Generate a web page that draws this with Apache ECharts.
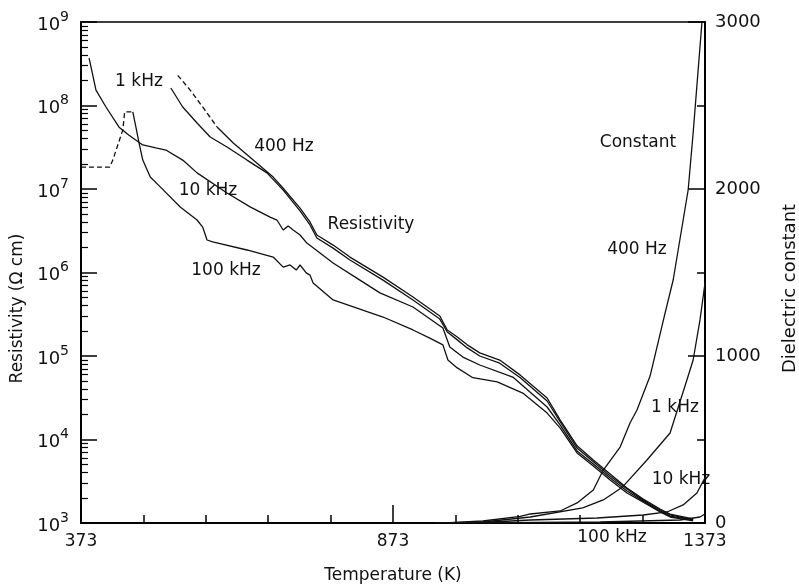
<!DOCTYPE html>
<html><head><meta charset="utf-8">
<script src="https://cdn.jsdelivr.net/npm/echarts@6/dist/echarts.min.js"></script>
<style>html,body{margin:0;padding:0;background:#fff}#c{width:799px;height:585px}</style>
</head><body><div id="c"></div>
<script>
// ---------------- Data ----------------
const xTicks = [373, 473, 573, 673, 773, 873, 973, 1073, 1173, 1273, 1373];
const xTickLabels = [373, 873, 1373];
const resTickExps = [3, 4, 5, 6, 7, 8, 9];
const dielTicks = [0, 1000, 2000, 3000];

// Resistivity (Ω cm) vs temperature (K)
const res400DashT = [528, 548, 568, 591];
const res400DashR = [2.3e8, 1.53e8, 9.6e7, 5.53e7];
const res400T = [591, 617, 649, 681, 697, 724, 740, 751, 777, 804, 857, 905, 948, 960, 976, 992, 1012, 1044, 1077, 1120, 1141, 1168, 1194, 1221, 1248, 1274, 1301, 1317, 1354];
const res400R = [5.53e7, 3.56e7, 2.22e7, 1.39e7, 1.02e7, 5.9e6, 4.03e6, 2.81e6, 2.13e6, 1.53e6, 8.8e5, 5.1e5, 3.01e5, 2.05e5, 1.69e5, 1.36e5, 1.09e5, 8.95e4, 5.9e4, 3.14e4, 1.71e4, 8.4e3, 5.7e3, 3.86e3, 2.62e3, 1.94e3, 1.47e3, 1.28e3, 1.12e3];

const res1kT = [517, 536, 559, 580, 607, 639, 671, 697, 724, 740, 751, 777, 804, 857, 905, 948, 960, 976, 992, 1012, 1044, 1077, 1120, 1141, 1168, 1194, 1221, 1248, 1274, 1301, 1317, 1354];
const res1kR = [1.62e8, 9.6e7, 6.17e7, 4.2e7, 3.18e7, 2.22e7, 1.56e7, 9.7e6, 5.46e6, 3.71e6, 2.59e6, 1.96e6, 1.41e6, 8.1e5, 4.69e5, 2.77e5, 1.94e5, 1.56e5, 1.25e5, 1.0e5, 8.2e4, 5.5e4, 2.89e4, 1.62e4, 7.9e3, 5.4e3, 3.66e3, 2.55e3, 1.88e3, 1.43e3, 1.25e3, 1.09e3];

const res10kT = [386, 397, 413, 434, 450, 472, 493, 509, 536, 559, 607, 644, 676, 687, 697, 705, 713, 724, 735, 777, 820, 852, 905, 953, 964, 985, 1012, 1065, 1120, 1141, 1168, 1194, 1221, 1248, 1274, 1301, 1317, 1354];
const res10kR = [3.7e8, 1.53e8, 9.6e7, 5.5e7, 4.4e7, 3.37e7, 3.1e7, 2.93e7, 2.22e7, 1.56e7, 8.95e6, 6.1e6, 4.6e6, 4.25e6, 3.23e6, 3.6e6, 3.23e6, 2.81e6, 2.25e6, 1.3e6, 8.1e5, 5.7e5, 3.86e5, 2.16e5, 1.28e5, 9.7e4, 7.8e4, 5.6e4, 2.45e4, 1.49e4, 7.3e3, 5.1e3, 3.46e3, 2.42e3, 1.83e3, 1.39e3, 1.21e3, 1.09e3];

const res100kDashT = [373, 395, 419, 424, 432, 440, 443, 456];
const res100kDashR = [1.83e7, 1.83e7, 1.83e7, 2.22e7, 3.37e7, 5.1e7, 8.4e7, 8.4e7];
const res100kT = [456, 461, 466, 472, 484, 500, 532, 559, 568, 575, 584, 639, 681, 697, 708, 718, 724, 734, 740, 745, 777, 857, 905, 932, 953, 961, 976, 1001, 1040, 1081, 1120, 1141, 1168, 1194, 1221, 1248, 1274, 1301, 1317, 1354];
const res100kR = [8.4e7, 5.5e7, 3.56e7, 2.22e7, 1.39e7, 1.06e7, 6.1e6, 4.25e6, 3.5e6, 2.45e6, 2.32e6, 1.86e6, 1.53e6, 1.16e6, 1.23e6, 1.07e6, 1.23e6, 9.9e5, 9.3e5, 7.5e5, 4.7e5, 2.93e5, 2.05e5, 1.64e5, 1.36e5, 8.95e4, 7.2e4, 5.5e4, 4.9e4, 3.6e4, 2.07e4, 1.37e4, 6.9e3, 4.8e3, 3.27e3, 2.29e3, 1.78e3, 1.36e3, 1.18e3, 1.06e3];

// Dielectric constant vs temperature (K)
const diel400T = [940, 964, 1017, 1077, 1093, 1141, 1168, 1194, 1210, 1237, 1253, 1264, 1285, 1309, 1322, 1346, 1354, 1368];
const diel400E = [0, 2, 12, 40, 54, 72, 120, 198, 317, 455, 600, 677, 880, 1257, 1455, 1994, 2335, 2994];
const diel1kT = [960, 1017, 1093, 1177, 1210, 1241, 1280, 1317, 1344, 1354, 1365, 1373];
const diel1kE = [0, 6, 36, 90, 138, 216, 377, 539, 856, 976, 1216, 1437];
const diel10kT = [1000, 1093, 1200, 1274, 1312, 1338, 1360, 1373];
const diel10kE = [0, 18, 30, 48, 66, 108, 180, 270];
const diel100kT = [1000, 1205, 1333, 1365, 1373];
const diel100kE = [0, 6, 18, 36, 54];

// ---------------- Chart ----------------
const FONT = 'DejaVu Sans';
const INK = '#111';
const zip = (a, b) => a.map((v, i) => [v, b[i]]);
const resTickValues = resTickExps.map(e => Math.pow(10, e));
const resMinor = [];
resTickExps.slice(0, -1).forEach(e => { for (let m = 2; m <= 9; m++) resMinor.push(m * Math.pow(10, e)); });
const plain = v => String(v);

function line(data, yIdx, dashed) {
  return {
    type: 'line', data: data, xAxisIndex: 0, yAxisIndex: yIdx,
    showSymbol: false, symbol: 'none', silent: true, animation: false,
    lineStyle: { color: INK, width: 1.3, type: dashed ? [5, 3] : 'solid' }
  };
}

const txt = (x, y, s) => ({
  type: 'text', x: x, y: y,
  style: { text: s, fontFamily: FONT, fontSize: 17, fill: INK, align: 'center', verticalAlign: 'middle' }
});

const chart = echarts.init(document.getElementById('c'), null, { renderer: 'canvas' });
chart.setOption({
  animation: false,
  backgroundColor: '#fff',
  grid: { left: 81, right: 94, top: 22, bottom: 62, outerBoundsMode: 'none', containLabel: false, show: true, borderColor: '#000', borderWidth: 1.5, backgroundColor: 'transparent' },
  xAxis: [{
    type: 'value', min: 373, max: 1373,
    name: 'Temperature (K)', nameLocation: 'middle', nameGap: 44,
    nameTextStyle: { fontFamily: FONT, fontSize: 17, color: INK },
    axisLine: { show: true, lineStyle: { color: '#000', width: 2 } },
    axisTick: { show: true, inside: true, length: 18, customValues: xTickLabels, lineStyle: { color: '#000', width: 1.5 } },
    axisLabel: { customValues: xTickLabels, margin: 10, fontFamily: FONT, fontSize: 17, color: INK, formatter: plain },
    splitLine: { show: false }
  }, {
    type: 'value', min: 373, max: 1373, position: 'bottom', gridIndex: 0,
    axisLine: { show: false },
    axisTick: { show: true, inside: true, length: 8, customValues: xTicks, lineStyle: { color: '#000', width: 1.5 } },
    axisLabel: { show: false }, splitLine: { show: false }
  }],
  yAxis: [{
    type: 'log', logBase: 10, min: 1e3, max: 1e9, position: 'left',
    name: 'Resistivity (Ω cm)', nameLocation: 'middle', nameGap: 52, nameRotate: 90,
    nameTextStyle: { fontFamily: FONT, fontSize: 17, color: INK, padding: [0, 72, 0, 0] },
    axisLine: { show: true, lineStyle: { color: '#000', width: 2 } },
    axisTick: { show: true, inside: true, length: 16, customValues: resTickValues, lineStyle: { color: '#000', width: 1.5 } },
    axisLabel: {
      customValues: resTickValues, margin: 12,
      formatter: v => '{b|10}{s|' + Math.round(Math.log10(v)) + '}',
      rich: {
        b: { fontFamily: FONT, fontSize: 18, color: INK, lineHeight: 24, verticalAlign: 'bottom' },
        s: { fontFamily: FONT, fontSize: 14, color: INK, lineHeight: 24, verticalAlign: 'top' }
      }
    },
    splitLine: { show: false }
  }, {
    type: 'log', logBase: 10, min: 1e3, max: 1e9, position: 'left',
    axisLine: { show: false },
    axisTick: { show: true, inside: true, length: 7, customValues: resMinor, lineStyle: { color: '#000', width: 1.2 } },
    axisLabel: { show: false }, splitLine: { show: false }
  }, {
    type: 'value', min: 0, max: 3000, interval: 1000, position: 'right',
    name: 'Dielectric constant', nameLocation: 'middle', nameGap: 76, nameRotate: 90,
    nameTextStyle: { fontFamily: FONT, fontSize: 18, color: INK, padding: [0, 32, 0, 0] },
    axisLine: { show: true, lineStyle: { color: '#000', width: 2 } },
    axisTick: { show: true, inside: true, length: 17, customValues: dielTicks, lineStyle: { color: '#000', width: 1.5 } },
    minorTick: { show: true, splitNumber: 2, length: 8, lineStyle: { color: '#000', width: 1.5 } },
    axisLabel: { customValues: dielTicks, margin: 10, fontFamily: FONT, fontSize: 18, color: INK, formatter: plain },
    splitLine: { show: false }
  }],
  series: [
    line(zip(res400DashT, res400DashR), 0, true),
    line(zip(res400T, res400R), 0, false),
    line(zip(res1kT, res1kR), 0, false),
    line(zip(res10kT, res10kR), 0, false),
    line(zip(res100kDashT, res100kDashR), 0, true),
    line(zip(res100kT, res100kR), 0, false),
    line(zip(diel400T, diel400E), 2, false),
    line(zip(diel1kT, diel1kE), 2, false),
    line(zip(diel10kT, diel10kE), 2, false),
    line(zip(diel100kT, diel100kE), 2, false)
  ],
  graphic: [
    txt(139, 82, '1 kHz'),
    txt(284, 147, '400 Hz'),
    txt(208, 191, '10 kHz'),
    txt(371, 225, 'Resistivity'),
    txt(226, 271, '100 kHz'),
    txt(638, 143, 'Constant'),
    txt(637, 250, '400 Hz'),
    txt(675, 408, '1 kHz'),
    txt(681, 480, '10 kHz'),
    txt(612, 538, '100 kHz')
  ]
});
</script></body></html>
